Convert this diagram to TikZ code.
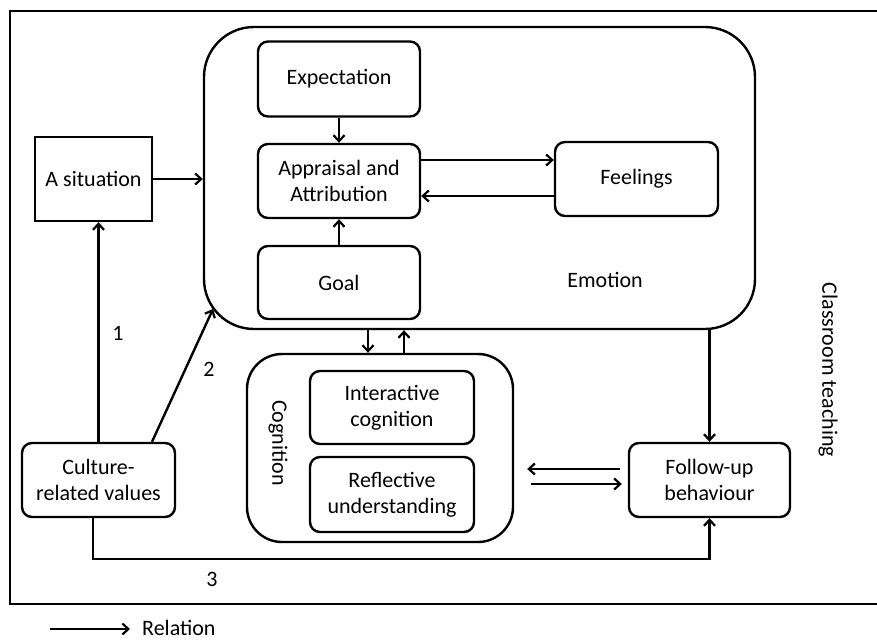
\documentclass[tikz,border=0pt]{standalone}
\usepackage{fontspec}
\setmainfont{Carlito}
\usetikzlibrary{arrows.meta}
\begin{document}
\begin{tikzpicture}[x=1pt,y=-1pt,
  every node/.style={font=\fontsize{22}{26}\selectfont, align=center, inner sep=0pt},
  box/.style={draw, line width=2.4pt, rounded corners=10pt},
  sqbox/.style={draw, line width=2.4pt},
  rel/.style={line width=2.4pt, -{Straight Barb[length=6pt,width=11pt,line width=2.2pt]}},
  plain/.style={line width=2.4pt}]
\useasboundingbox (0,0) rectangle (877,641);
% frame
\draw[plain] (880,11) -- (10,11) -- (10,604) -- (880,604);
% emotion
\node[draw, line width=2.4pt, rounded corners=50pt, minimum width=551pt, minimum height=302pt] (emo) at (479.5,178) {};
\node (emol) at (605,280) {Emotion};
\node[box, minimum width=162pt, minimum height=75pt] (exp) at (339,79) {Expectation};
\node[box, minimum width=162pt, minimum height=74pt] (app) at (339,181) {Appraisal and\\Attribution};
\node[box, minimum width=162pt, minimum height=73pt] (goal) at (339,282.5) {Goal};
\node[box, minimum width=163pt, minimum height=74pt] (feel) at (636.5,179) {Feelings};
% situation
\node[sqbox, minimum width=117pt, minimum height=84pt] (sit) at (93.5,179) {A situation};
% cognition
\node[draw, line width=2.4pt, rounded corners=35pt, minimum width=266pt, minimum height=188pt] (cog) at (380,448) {};
\node[rotate=-90] (cogl) at (278,443) {Cognition};
\node[box, minimum width=164pt, minimum height=73pt] (int) at (392,407.5) {Interactive\\cognition};
\node[box, minimum width=164pt, minimum height=75pt] (refl) at (392,494.5) {Reflective\\understanding};
% culture
\node[box, minimum width=153pt, minimum height=74pt] (cul) at (98.5,480) {Culture-\\related values};
% follow-up
\node[box, minimum width=161pt, minimum height=74pt] (fol) at (709.5,480) {Follow-up\\behaviour};
% classroom teaching
\node[rotate=-90] (cls) at (828,370) {Classroom teaching};
% labels
\node (l1) at (118,333) {1};
\node (l2) at (209,369) {2};
\node (l3) at (212,579) {3};
% connectors in emotion
\draw[rel] (exp) -- (app);
\draw[rel] (goal) -- (app);
\path ([yshift=21pt]app.east) coordinate (a1) ([yshift=-15pt]app.east) coordinate (a2);
\draw[rel] (a1) -- (a1 -| feel.west);
\draw[rel] (a2 -| feel.west) -- (a2);
% situation to emotion
\draw[rel] (sit.east) -- (sit.east -| emo.west);
% culture relations
\draw[rel] (cul.north) -- (cul.north |- sit.south);
\path ([xshift=53.5pt]cul.north) coordinate (c2s);
\coordinate (e2) at (213,309);
\draw[rel] (c2s) -- (e2);
\path ([xshift=-5.5pt]cul.south) coordinate (c3s);
\draw[rel] (c3s) |- ([yshift=-41pt]fol.south) -- (fol.south);
% emotion <-> cognition
\path ([xshift=-12pt]cog.north) coordinate (k1) ([xshift=24pt]cog.north) coordinate (k2);
\draw[rel] (k1 |- emo.south) -- (k1);
\draw[rel] (k2) -- (k2 |- emo.south);
% emotion -> follow-up
\draw[rel] (fol.north |- emo.south) -- (fol.north);
% cognition <-> follow-up
\path ([yshift=11pt]fol.west) coordinate (f1) ([yshift=-4pt]fol.west) coordinate (f2);
\draw[rel, shorten <=8pt, shorten >=13pt] (f1) -- (f1 -| cog.east);
\draw[rel, shorten <=17pt, shorten >=6pt] (f2 -| cog.east) -- (f2);
% legend
\node[anchor=west] (relt) at (142,628) {Relation};
\draw[rel] ([xshift=-92pt,yshift=-1pt]relt.west) -- ([xshift=-12pt,yshift=-1pt]relt.west);
\end{tikzpicture}
\end{document}
